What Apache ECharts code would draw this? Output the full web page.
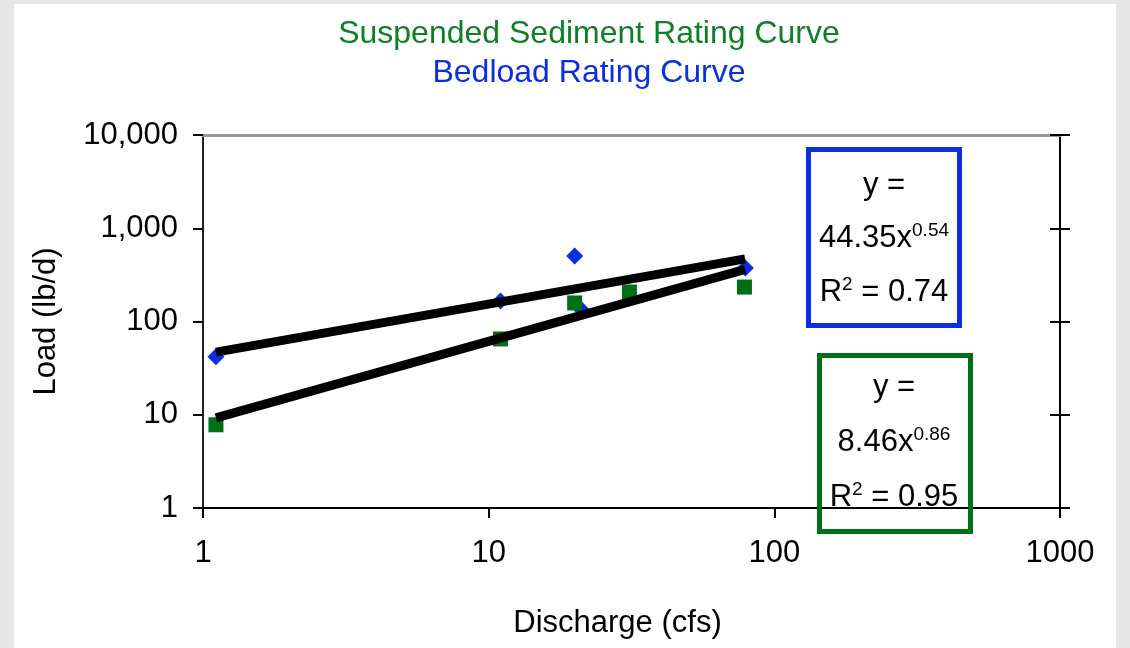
<!DOCTYPE html>
<html>
<head>
<meta charset="utf-8">
<script src="https://cdn.jsdelivr.net/npm/echarts@6/dist/echarts.min.js"></script>
<style>
  html, body { margin: 0; padding: 0; background: #e6e6e6; }
  #chart { width: 1130px; height: 648px; }
</style>
</head>
<body>
<div id="chart"></div>
<script>
const FONT = '"Liberation Sans", Arial, sans-serif';

// discharge (cfs) / load (lb/d) pairs
const bedloadPoints = [[1.11, 42], [11.0, 166], [20.0, 504], [21.0, 136], [79.2, 375]];
const suspendedPoints = [[1.11, 7.8], [11.0, 65], [20.0, 158], [31.1, 207], [78.6, 234]];

// fitted power trend lines (ends only, straight on log-log)
const bedloadTrend = [[1.11, 46.9], [79, 469]];
const suspendedTrend = [[1.11, 9.26], [79, 362]];

const titles = ['Suspended Sediment Rating Curve', 'Bedload Rating Curve'];
const bedloadEq = ['y =', '44.35x', '0.54', '0.74'];
const suspendedEq = ['y =', '8.46x', '0.86', '0.95'];

const BLUE = '#0a2ee0';
const GREEN = '#007018';
const TITLE_GREEN = '#0e7f24';

function eqText(x, y, lines) {
  const base = { fontSize: 31, fontFamily: FONT, fill: '#000', align: 'center', verticalAlign: 'middle' };
  const rich = {
    a: { fontSize: 31, fontFamily: FONT, color: '#000' },
    s: { fontSize: 19, fontFamily: FONT, color: '#000', verticalAlign: 'top', padding: [0, 0, 14, 0] }
  };
  return [
    { type: 'text', x: x, y: y[0], style: Object.assign({}, base, { text: lines[0] }), z: 10 },
    { type: 'text', x: x, y: y[1], style: Object.assign({}, base, { text: '{a|' + lines[1] + '}{s|' + lines[2] + '}', rich: rich }), z: 10 },
    { type: 'text', x: x, y: y[2], style: Object.assign({}, base, { text: '{a|R}{s|2}{a| = ' + lines[3] + '}', rich: rich }), z: 10 }
  ];
}

const chart = echarts.init(document.getElementById('chart'), null, { renderer: 'canvas' });

const axisTickStyle = { lineStyle: { color: '#000', width: 2 } };

chart.setOption({
  backgroundColor: '#e6e6e6',
  animation: false,
  title: [
    { text: titles[0], left: 584, top: 13, textAlign: 'center',
      textStyle: { color: TITLE_GREEN, fontSize: 32, fontWeight: 'normal', fontFamily: FONT } },
    { text: titles[1], left: 584, top: 52, textAlign: 'center',
      textStyle: { color: BLUE, fontSize: 32, fontWeight: 'normal', fontFamily: FONT } }
  ],
  grid: { left: 203, right: 70, top: 135, bottom: 140 },
  xAxis: [
    {
      type: 'log', logBase: 10, min: 1, max: 1000,
      name: 'Discharge (cfs)', nameLocation: 'middle', nameGap: 100,
      nameTextStyle: { fontSize: 31, fontFamily: FONT, color: '#000', padding: [0, 28, 0, 0] },
      axisLine: { lineStyle: { color: '#000', width: 2 } },
      axisTick: { show: true, length: 10, ...axisTickStyle },
      minorTick: { show: false },
      splitLine: { show: false },
      axisLabel: { fontSize: 31, fontFamily: FONT, color: '#000', margin: 30, formatter: v => String(Math.round(v)) }
    },
    {
      type: 'log', logBase: 10, min: 1, max: 1000, position: 'top',
      axisLine: { show: true, lineStyle: { color: '#999', width: 3 } },
      axisTick: { show: false }, axisLabel: { show: false }, splitLine: { show: false }
    }
  ],
  yAxis: [
    {
      type: 'log', logBase: 10, min: 1, max: 10000,
      name: 'Load (lb/d)', nameLocation: 'middle', nameGap: 141,
      nameTextStyle: { fontSize: 31, fontFamily: FONT, color: '#000' },
      axisLine: { show: true, lineStyle: { color: '#222', width: 2 } },
      axisTick: { show: true, length: 10, ...axisTickStyle },
      splitLine: { show: false },
      axisLabel: {
        fontSize: 31, fontFamily: FONT, color: '#000', margin: 25,
        formatter: v => Math.round(v).toLocaleString('en-US')
      }
    },
    {
      type: 'log', logBase: 10, min: 1, max: 10000, position: 'right',
      axisLine: { show: true, lineStyle: { color: '#000', width: 2 } },
      axisTick: { show: true, length: 10, ...axisTickStyle },
      axisLabel: { show: false }, splitLine: { show: false }
    },
    {
      type: 'log', logBase: 10, min: 1, max: 10000, position: 'right',
      axisLine: { show: false },
      axisTick: { show: true, inside: true, length: 10, ...axisTickStyle },
      axisLabel: { show: false }, splitLine: { show: false }
    }
  ],
  graphic: [
    { type: 'rect', shape: { x: 14, y: 4, width: 1102, height: 660 }, style: { fill: '#fff' }, z: -10, silent: true },
    { type: 'rect', shape: { x: 808.5, y: 149.5, width: 151, height: 176 },
      style: { fill: 'none', stroke: BLUE, lineWidth: 5 }, z: 10 },
    { type: 'rect', shape: { x: 819.5, y: 355.5, width: 151, height: 176 },
      style: { fill: 'none', stroke: GREEN, lineWidth: 5 }, z: 10 }
  ].concat(eqText(884, [185, 238, 292], bedloadEq))
   .concat(eqText(894, [387, 442, 497], suspendedEq)),
  series: [
    {
      name: 'Bedload', type: 'scatter', data: bedloadPoints,
      symbol: 'diamond', symbolSize: 17,
      itemStyle: { color: BLUE, opacity: 1 }, z: 2
    },
    {
      name: 'Suspended', type: 'scatter', data: suspendedPoints,
      symbol: 'rect', symbolSize: 15,
      itemStyle: { color: GREEN, opacity: 1 }, z: 2
    },
    {
      type: 'line', data: bedloadTrend, showSymbol: false, symbol: 'none',
      lineStyle: { color: '#000', width: 9 }, z: 3
    },
    {
      type: 'line', data: suspendedTrend, showSymbol: false, symbol: 'none',
      lineStyle: { color: '#000', width: 9 }, z: 3
    }
  ]
});
</script>
</body>
</html>
